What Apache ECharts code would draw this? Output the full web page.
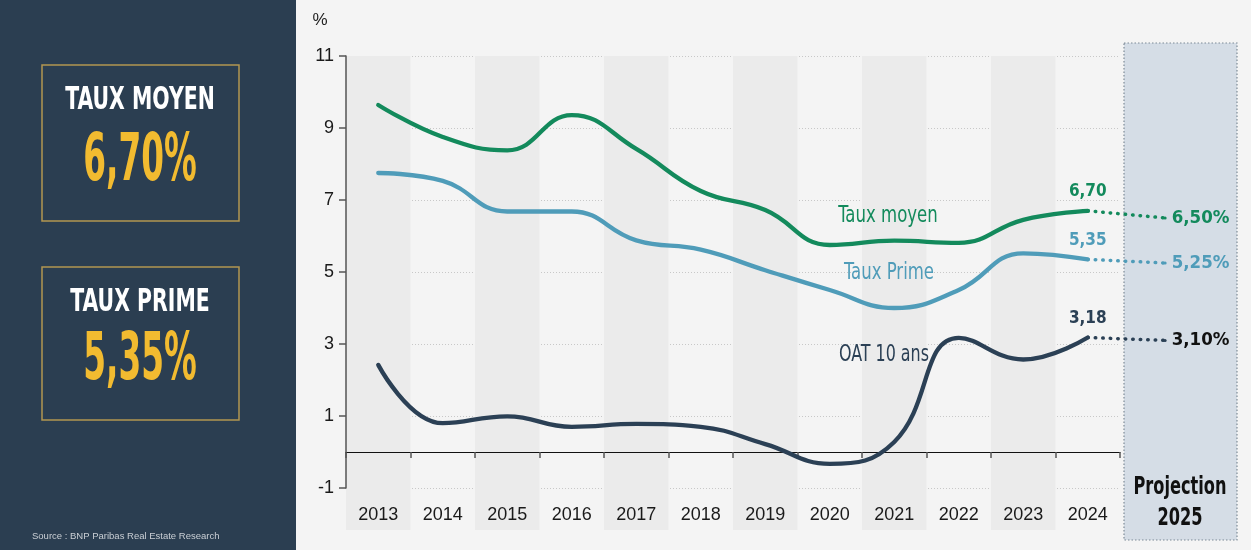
<!DOCTYPE html>
<html>
<head>
<meta charset="utf-8">
<script src="https://cdn.jsdelivr.net/npm/echarts@6/dist/echarts.min.js"></script>
<style>
  html, body { margin: 0; padding: 0; background: #f4f4f4; }
  #chart { width: 1251px; height: 550px; }
</style>
</head>
<body>
<div id="chart"></div>
<script>
// données
var years = ['2013', '2014', '2015', '2016', '2017', '2018', '2019', '2020', '2021', '2022', '2023', '2024'];
var tauxMoyen = [9.64, 8.75, 8.38, 9.36, 8.42, 7.25, 6.72, 5.75, 5.87, 5.81, 6.45, 6.70];
var tauxPrime = [7.75, 7.53, 6.68, 6.68, 5.88, 5.62, 5.05, 4.50, 4.00, 4.50, 5.52, 5.35];
var oat10 = [2.42, 0.80, 0.99, 0.70, 0.78, 0.70, 0.22, -0.33, 0.28, 3.17, 2.57, 3.18];
var projection2025 = [6.50, 5.25, 3.10];
var yTicks = [-1, 1, 3, 5, 7, 9, 11];

var NARROW = '"DejaVu Sans Condensed", "DejaVu Sans", sans-serif';
var ARIAL = '"Liberation Sans", Arial, sans-serif';
var GREEN = '#138a5c', BLUE = '#4f9cb9', DARK = '#2b4055';
var last = years.length - 1;
var projX = last + 1.2;

// grille principale : 12 années de 346 à 1120 px ; grille projection prolongée jusqu'à 1237 px
var PLOT_LEFT = 346, PLOT_RIGHT = 131, PROJ_RIGHT = 14;
var band = (1251 - PLOT_LEFT - PLOT_RIGHT) / years.length;
var projMax = -0.5 + (1251 - PLOT_LEFT - PROJ_RIGHT) / band;

function fmt(v, pct) {
  return v.toFixed(2).replace('.', ',') + (pct ? '%' : '');
}

// seule la dernière valeur porte une étiquette
function withLastLabel(arr, color) {
  return arr.map(function (v, i) {
    if (i !== last) return { value: v, symbol: 'none' };
    return {
      value: v,
      label: {
        show: true, position: 'top', distance: 9,
        formatter: fmt(v, false),
        fontFamily: NARROW, fontSize: 17, fontWeight: 'bold', color: color
      }
    };
  });
}

function mainLine(name, arr, color) {
  return {
    name: name, type: 'line', xAxisIndex: 0, yAxisIndex: 0,
    data: withLastLabel(arr, color),
    smooth: 0.45, symbol: 'circle', symbolSize: 3, showSymbol: true,
    itemStyle: { color: color },
    lineStyle: { color: color, width: 4.3, cap: 'round' },
    label: { show: false },
    z: 5
  };
}

function projLine(name, from, to, color, labelColor) {
  return {
    name: name + ' 2025', type: 'line', xAxisIndex: 1, yAxisIndex: 1,
    data: [{ value: [last, from], symbol: 'none' }, {
      value: [projX, to],
      label: {
        show: true, position: 'right', distance: 5,
        formatter: fmt(to, true),
        fontFamily: NARROW, fontSize: 18.5, fontWeight: 'bold', color: labelColor
      }
    }],
    symbol: 'circle', symbolSize: 3, showSymbol: true,
    itemStyle: { color: color },
    lineStyle: { color: color, width: 3.5, type: [0.5, 7], cap: 'round' },
    z: 4
  };
}

var chart = echarts.init(document.getElementById('chart'));
chart.setOption({
  backgroundColor: '#f4f4f4',
  animation: false,
  grid: [
    { left: PLOT_LEFT, right: PLOT_RIGHT, top: 56, bottom: 62 },
    { left: PLOT_LEFT, right: PROJ_RIGHT, top: 56, bottom: 62 },
    { left: PLOT_LEFT, right: PLOT_RIGHT, top: 488, height: 42 }
  ],
  xAxis: [
    {
      type: 'category', gridIndex: 0, data: years, boundaryGap: true,
      axisLine: { onZero: true, lineStyle: { color: '#111', width: 1 } },
      axisTick: { show: true, interval: 0, length: 6, lineStyle: { color: '#555', width: 1.5 } },
      axisLabel: { show: false },
      splitArea: { show: true, interval: 0, areaStyle: { color: ['#ebebeb', 'rgba(0,0,0,0)'] } }
    },
    { type: 'value', gridIndex: 1, min: -0.5, max: projMax, show: false },
    {
      type: 'category', gridIndex: 2, data: years, boundaryGap: true,
      axisLine: { show: false }, axisTick: { show: false },
      axisLabel: {
        inside: true, margin: 6, interval: 0,
        fontFamily: ARIAL, fontSize: 18, color: '#1a1a1a'
      },
      splitArea: { show: true, interval: 0, areaStyle: { color: ['#ebebeb', 'rgba(0,0,0,0)'] } }
    }
  ],
  yAxis: [
    {
      type: 'value', gridIndex: 0, min: -1, max: 11,
      axisLine: { show: true, onZero: false, lineStyle: { color: '#555', width: 1.5 } },
      axisTick: { show: true, length: 7, customValues: yTicks, lineStyle: { color: '#555', width: 1.5 } },
      axisLabel: {
        customValues: yTicks, margin: 12,
        fontFamily: ARIAL, fontSize: 18, color: '#1a1a1a'
      },
      splitLine: { show: true, lineStyle: { color: '#c8c8c8', type: [1, 2], width: 1 } }
    },
    { type: 'value', gridIndex: 1, min: -1, max: 11, show: false },
    { type: 'value', gridIndex: 2, min: 0, max: 1, show: false }
  ],
  series: [
    mainLine('Taux moyen', tauxMoyen, GREEN),
    mainLine('Taux Prime', tauxPrime, BLUE),
    mainLine('OAT 10 ans', oat10, DARK),
    projLine('Taux moyen', tauxMoyen[last], projection2025[0], GREEN, GREEN),
    projLine('Taux Prime', tauxPrime[last], projection2025[1], BLUE, BLUE),
    projLine('OAT 10 ans', oat10[last], projection2025[2], DARK, '#111')
  ],
  graphic: [
    // panneau gauche
    { type: 'rect', z: -10, shape: { x: 0, y: 0, width: 296, height: 550 }, style: { fill: '#2b3e51' } },
    { type: 'rect', z: -9, shape: { x: 42, y: 65, width: 197, height: 156 }, style: { fill: 'none', stroke: '#b39650', lineWidth: 1.5 } },
    { type: 'rect', z: -9, shape: { x: 42, y: 267, width: 197, height: 153 }, style: { fill: 'none', stroke: '#b39650', lineWidth: 1.5 } },
    { type: 'text', z: 2, x: 140, y: 101, scaleX: 0.71,
      style: { text: 'TAUX MOYEN', fill: '#ffffff', font: 'bold 32px ' + NARROW, align: 'center', verticalAlign: 'middle' } },
    { type: 'text', z: 2, x: 140, y: 163, scaleX: 0.56,
      style: { text: '6,70%', fill: '#f2bb30', font: 'bold 65px ' + NARROW, align: 'center', verticalAlign: 'middle' } },
    { type: 'text', z: 2, x: 140, y: 303, scaleX: 0.71,
      style: { text: 'TAUX PRIME', fill: '#ffffff', font: 'bold 32px ' + NARROW, align: 'center', verticalAlign: 'middle' } },
    { type: 'text', z: 2, x: 140, y: 362, scaleX: 0.56,
      style: { text: '5,35%', fill: '#f2bb30', font: 'bold 65px ' + NARROW, align: 'center', verticalAlign: 'middle' } },
    { type: 'text', z: 2, x: 32, y: 536,
      style: { text: 'Source : BNP Paribas Real Estate Research', fill: '#c9ced4', font: '9.5px ' + ARIAL, verticalAlign: 'middle' } },
    // zone projection
    { type: 'rect', z: -10, shape: { x: 1124, y: 43, width: 113, height: 497 },
      style: { fill: '#d5dde6', stroke: '#7d8a96', lineWidth: 1.2, lineDash: [1.5, 2] } },
    { type: 'text', z: 2, x: 1180, y: 487, scaleX: 0.72,
      style: { text: 'Projection', fill: '#111', font: 'bold 25px ' + NARROW, align: 'center', verticalAlign: 'middle' } },
    { type: 'text', z: 2, x: 1180, y: 518, scaleX: 0.72,
      style: { text: '2025', fill: '#111', font: 'bold 25px ' + NARROW, align: 'center', verticalAlign: 'middle' } },
    // noms des courbes
    { type: 'text', z: 6, x: 888, y: 216, scaleX: 0.8,
      style: { text: 'Taux moyen', fill: GREEN, font: '23px ' + NARROW, align: 'center', verticalAlign: 'middle' } },
    { type: 'text', z: 6, x: 889, y: 273, scaleX: 0.8,
      style: { text: 'Taux Prime', fill: BLUE, font: '23px ' + NARROW, align: 'center', verticalAlign: 'middle' } },
    { type: 'text', z: 6, x: 884, y: 355, scaleX: 0.77,
      style: { text: 'OAT 10 ans', fill: DARK, font: '23px ' + NARROW, align: 'center', verticalAlign: 'middle' } },
    { type: 'text', z: 2, x: 320, y: 20,
      style: { text: '%', fill: '#222', font: '17px ' + ARIAL, align: 'center', verticalAlign: 'middle' } }
  ]
});
</script>
</body>
</html>
